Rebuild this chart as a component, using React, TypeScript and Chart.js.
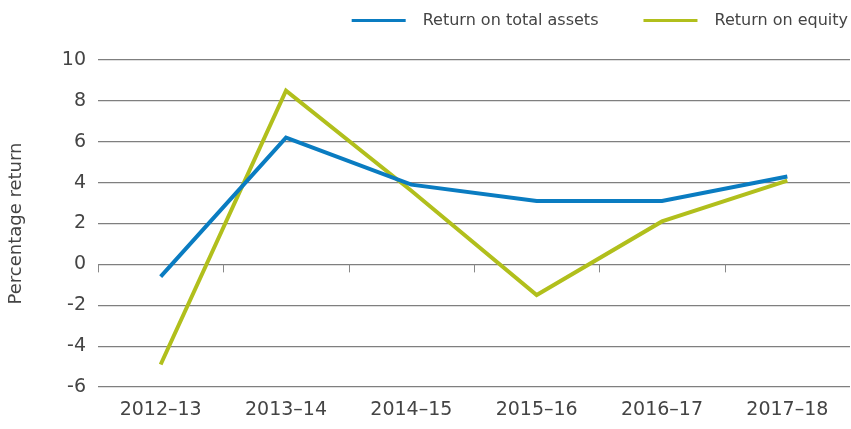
import React, { useEffect, useRef } from "react";
import { Chart, registerables } from "chart.js";

Chart.register(...registerables);

const categories = ["2012–13", "2013–14", "2014–15", "2015–16", "2016–17", "2017–18"];
const returnOnTotalAssets = [-0.6, 6.2, 3.9, 3.1, 3.1, 4.3];
const returnOnEquity = [-4.9, 8.5, 3.6, -1.5, 2.1, 4.1];
const yTicks = [-6, -4, -2, 0, 2, 4, 6, 8, 10];
const seriesLabels = ["Return on total assets", "Return on equity"];
const seriesColors = ["#0a7cc1", "#b1bf1c"];
const yTitle = "Percentage return";

const FONT = "'DejaVu Sans', 'Liberation Sans', sans-serif";
const TEXT = "#444444";

const legendPlugin = {
  id: "customLegend",
  afterDraw(chart: any) {
    const ctx = chart.ctx;
    ctx.save();
    ctx.font = `16px ${FONT}`;
    ctx.textBaseline = "middle";
    let cursor = 848;
    const y = 20;
    const ds = chart.data.datasets;
    for (let i = ds.length - 1; i >= 0; i--) {
      const label = ds[i].label as string;
      const w = ctx.measureText(label).width;
      const textX = cursor - w;
      const lineEnd = textX - 17;
      const lineStart = lineEnd - 54;
      ctx.fillStyle = TEXT;
      ctx.textAlign = "left";
      ctx.fillText(label, textX, y + 1);
      ctx.strokeStyle = ds[i].borderColor;
      ctx.lineWidth = 3;
      ctx.beginPath();
      ctx.moveTo(lineStart, y + 0.5);
      ctx.lineTo(lineEnd, y + 0.5);
      ctx.stroke();
      cursor = lineStart - 45;
    }
    ctx.restore();
  },
};

const zeroTicksPlugin = {
  id: "zeroTicks",
  beforeDatasetsDraw(chart: any) {
    const ctx = chart.ctx;
    const xs = chart.scales.x;
    const ys = chart.scales.y;
    const y0 = ys.getPixelForValue(0);
    ctx.save();
    ctx.strokeStyle = "#888888";
    ctx.lineWidth = 1;
    for (let i = 0; i < categories.length; i++) {
      const x = Math.round(xs.getPixelForValue(i - 0.5)) + 0.5;
      ctx.beginPath();
      ctx.moveTo(x, y0);
      ctx.lineTo(x, y0 + 8);
      ctx.stroke();
    }
    ctx.restore();
  },
};

export default function App() {
  const ref = useRef<HTMLCanvasElement | null>(null);
  useEffect(() => {
    if (!ref.current) return;
    const chart = new Chart(ref.current, {
      type: "line",
      data: {
        labels: categories,
        datasets: [
          {
            label: seriesLabels[0],
            data: returnOnTotalAssets,
            borderColor: seriesColors[0],
            backgroundColor: seriesColors[0],
            borderWidth: 4,
            pointRadius: 0,
            tension: 0,
            borderJoinStyle: "miter",
            fill: false,
          },
          {
            label: seriesLabels[1],
            data: returnOnEquity,
            borderColor: seriesColors[1],
            backgroundColor: seriesColors[1],
            borderWidth: 4,
            pointRadius: 0,
            tension: 0,
            borderJoinStyle: "miter",
            fill: false,
          },
        ],
      },
      options: {
        responsive: false,
        animation: false,
        devicePixelRatio: 1,
        layout: { padding: { top: 60, right: 1, bottom: 0, left: 0 } },
        plugins: {
          legend: { display: false },
          tooltip: { enabled: false },
        },
        scales: {
          x: {
            type: "category",
            offset: true,
            border: { display: false },
            grid: { display: false, drawTicks: false },
            ticks: {
              padding: 12,
              color: TEXT,
              font: { family: FONT, size: 19 },
              maxRotation: 0,
              autoSkip: false,
            },
            afterFit(scale: any) {
              scale.height = 42;
            },
          },
          y: {
            min: -6,
            max: 10,
            border: { display: false },
            afterBuildTicks(scale: any) {
              scale.ticks = yTicks.map((v) => ({ value: v }));
            },
            grid: {
              color: "#7f7f7f",
              lineWidth: 1.2,
              drawTicks: false,
            },
            ticks: {
              padding: 12,
              color: TEXT,
              font: { family: FONT, size: 19 },
            },
            title: {
              display: true,
              text: yTitle,
              color: TEXT,
              font: { family: FONT, size: 18 },
              padding: { top: 6, bottom: 0 },
            },
            afterFit(scale: any) {
              scale.width = 98;
            },
          },
        },
      },
      plugins: [legendPlugin, zeroTicksPlugin],
    } as any);
    return () => chart.destroy();
  }, []);

  return (
    <div style={{ position: "fixed", left: 0, top: 0, width: 851, height: 429, background: "#ffffff" }}>
      <canvas ref={ref} width={851} height={429} style={{ width: 851, height: 429, display: "block" }} />
    </div>
  );
}
